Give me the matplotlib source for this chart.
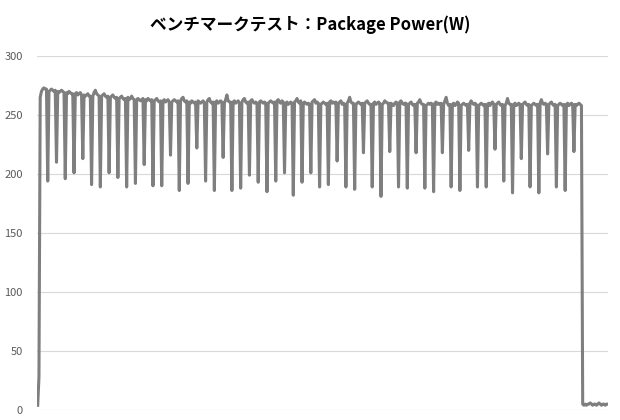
import matplotlib.pyplot as plt
import numpy as np

plt.rcParams['font.family'] = ['Noto Sans CJK JP', 'DejaVu Sans']

# 開始部分（アイドル→立ち上がり）
start = [4, 28, 265, 270, 272, 273, 272, 272]

# 周期的な落ち込みの底の値 (W)
dips = [194, 210, 196, 201, 213, 191, 189, 201, 197, 189,
        192, 208, 190, 190, 216, 186, 192, 222, 194, 186,
        214, 186, 188, 199, 193, 185, 194, 201, 182, 193,
        201, 189, 191, 211, 189, 187, 218, 189, 181, 219,
        189, 188, 218, 188, 185, 218, 189, 186, 220, 189,
        189, 221, 194, 184, 213, 189, 184, 217, 189, 186,
        219]

# 落ち込みの間の値
gaps = [
    [270, 271, 272, 271, 270, 271], [270, 269, 270, 271, 270, 269],
    [269, 268, 270, 269, 268, 268], [268, 269, 267, 268, 269, 267],
    [267, 266, 267, 268, 266, 266], [266, 269, 271, 268, 267, 266],
    [266, 267, 268, 266, 265, 266], [265, 266, 267, 265, 264, 265],
    [264, 265, 266, 264, 263, 264], [265, 263, 264, 266, 264, 263],
    [263, 264, 263, 262, 263, 264], [263, 262, 264, 263, 262, 263],
    [262, 263, 264, 262, 261, 262], [262, 263, 261, 262, 263, 261],
    [261, 262, 263, 262, 261, 262], [262, 264, 265, 262, 261, 262],
    [261, 260, 262, 261, 260, 261], [262, 261, 260, 261, 262, 260],
    [261, 263, 264, 261, 260, 261], [261, 262, 260, 261, 262, 261],
    [260, 263, 267, 262, 261, 261], [261, 262, 260, 261, 262, 260],
    [261, 263, 264, 261, 260, 261], [262, 263, 261, 260, 261, 260],
    [261, 262, 261, 260, 261, 260], [260, 261, 262, 261, 260, 261],
    [262, 263, 261, 260, 262, 261], [260, 261, 259, 260, 261, 260],
    [261, 262, 264, 261, 260, 262], [260, 261, 260, 259, 260, 259],
    [261, 262, 263, 260, 261, 260], [259, 260, 261, 260, 259, 260],
    [261, 262, 260, 261, 260, 261], [260, 261, 262, 259, 260, 259],
    [260, 262, 265, 261, 260, 260], [259, 260, 261, 260, 259, 260],
    [260, 261, 262, 260, 259, 259], [260, 261, 259, 260, 261, 260],
    [259, 260, 262, 261, 260, 260], [260, 259, 258, 260, 261, 260],
    [261, 262, 260, 259, 260, 260], [259, 260, 261, 259, 258, 259],
    [260, 261, 263, 260, 259, 259], [258, 259, 260, 259, 260, 259],
    [260, 261, 259, 260, 259, 260], [259, 262, 265, 260, 258, 259],
    [259, 260, 258, 259, 261, 260], [258, 259, 260, 259, 258, 259],
    [260, 262, 260, 259, 260, 259], [258, 259, 260, 259, 258, 259],
    [259, 260, 258, 260, 261, 259], [259, 260, 261, 259, 258, 259],
    [258, 260, 264, 260, 259, 259], [259, 260, 258, 259, 260, 259],
    [259, 260, 261, 259, 258, 259], [258, 259, 260, 259, 258, 259],
    [260, 263, 260, 259, 260, 259], [259, 260, 261, 259, 258, 259],
    [258, 259, 260, 259, 258, 259], [259, 260, 258, 259, 260, 259],
]
tail = [259, 258, 259, 260, 259, 258]

# 終了後のアイドル
end = [5, 4, 5, 4, 5, 5, 6, 5, 4, 5, 5, 4, 5, 6, 5, 4, 5, 5, 4, 5, 5]

power = list(start)
for k in range(len(dips)):
    power.append(dips[k])
    if k < len(gaps):
        power += gaps[k]
power += tail
power += end

t = np.arange(len(power))

fig = plt.figure(figsize=(6.2, 4.2), dpi=100)
ax = fig.add_axes([36.7 / 620, 1 - 410 / 420, (608 - 36.7) / 620, 354 / 420])

ax.plot(t, power, color='#7f7f7f', linewidth=2.2, solid_joinstyle='round', zorder=3)

ax.set_ylim(0, 300)
ax.set_xlim(-0.8, 455.2)
ax.set_yticks(np.arange(0, 301, 50))
ax.set_xticks([])
ax.grid(axis='y', color='#d9d9d9', linewidth=0.8)
ax.set_axisbelow(True)
for s in ax.spines.values():
    s.set_visible(False)
ax.tick_params(axis='y', length=0, pad=10, labelsize=8, labelcolor='#595959')

fig.text(0.5, 1 - 25 / 420, 'ベンチマークテスト：Package Power(W)', ha='center', va='center',
         fontsize=12, fontweight='bold', color='#000000')

fig.savefig('out.png', dpi=100)
